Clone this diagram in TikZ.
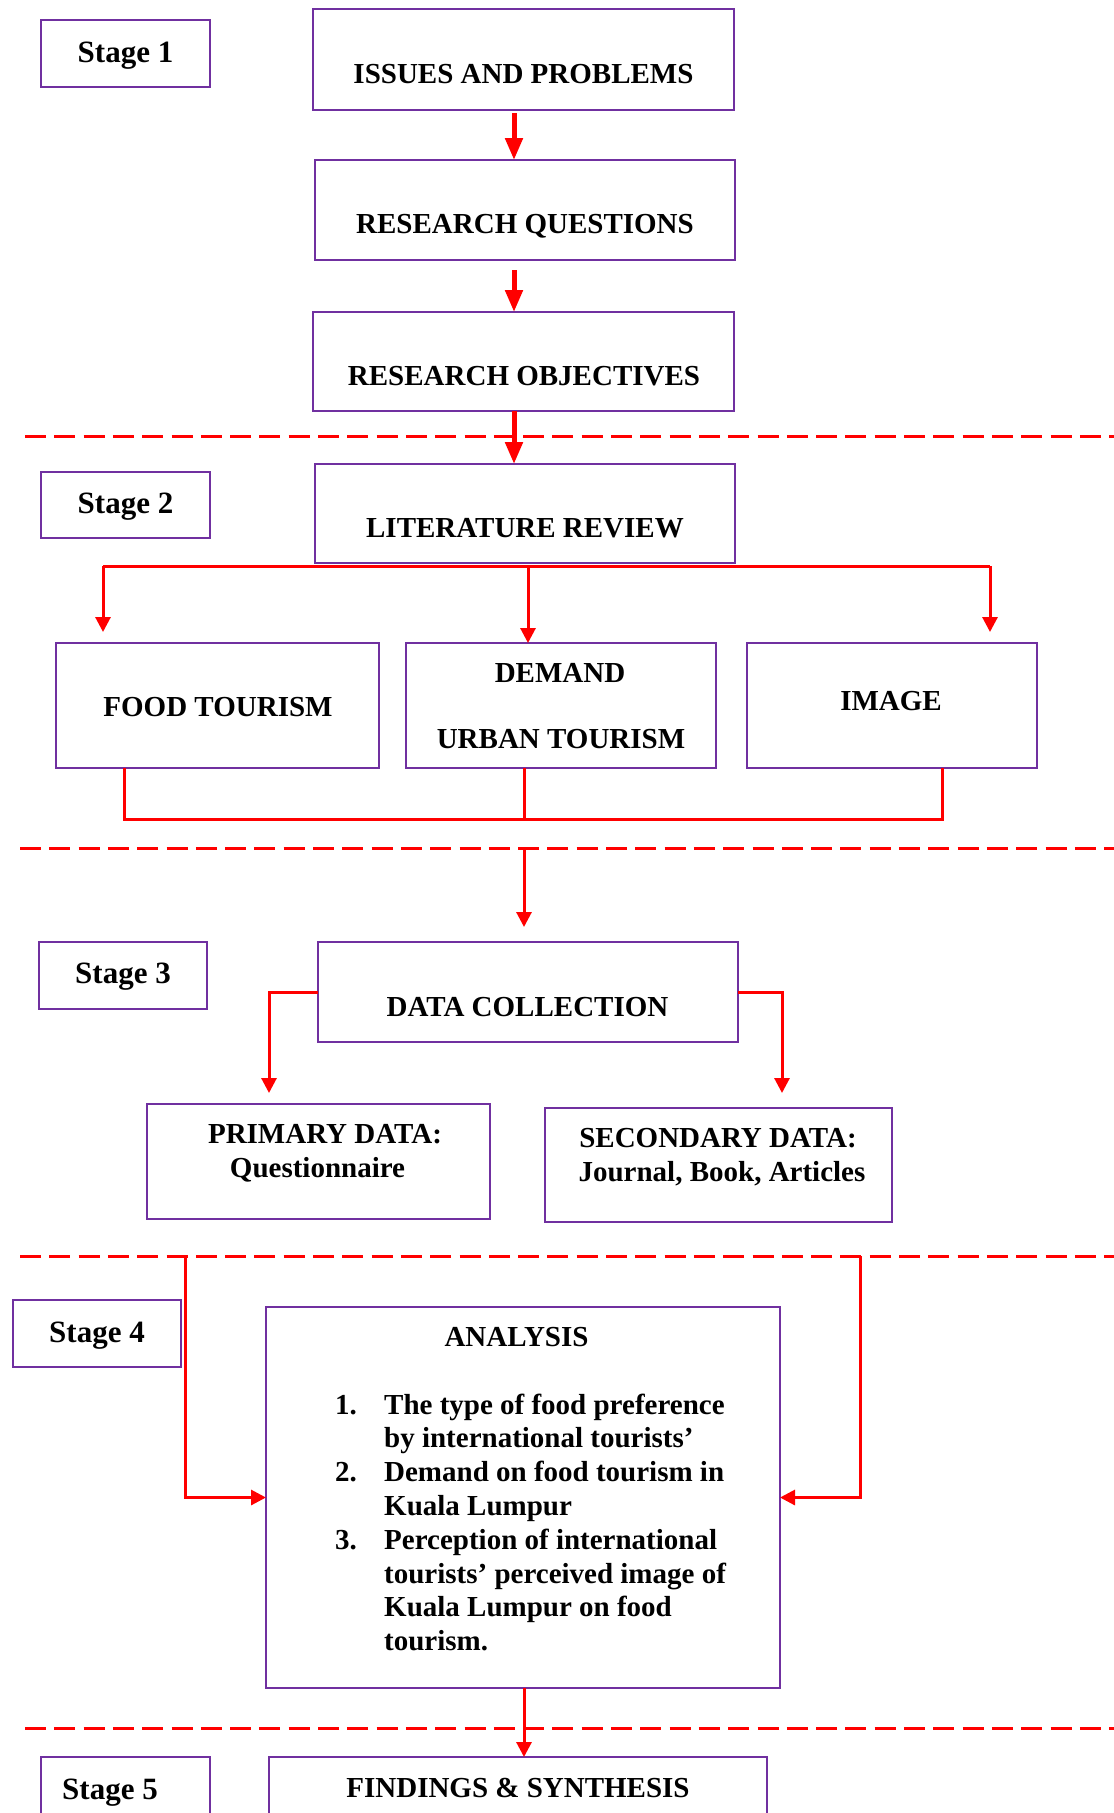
\documentclass[tikz,border=0pt]{standalone}
\usepackage{fontspec}
\setmainfont{Liberation Serif}
\usetikzlibrary{arrows.meta}
\definecolor{boxpurple}{HTML}{7030A0}
\definecolor{lred}{HTML}{FF0000}
\begin{document}
\begin{tikzpicture}[x=1pt,y=-1pt,
  box/.style={draw=boxpurple, line width=2.6pt, inner sep=0pt, outer sep=0pt},
  txt/.style={font=\fontsize{29}{34}\selectfont\bfseries, anchor=base, inner sep=0pt},
  stg/.style={font=\fontsize{31}{36}\selectfont\bfseries, anchor=base, inner sep=0pt},
  conn/.style={draw=lred, line width=3pt},
  arr/.style={draw=lred, line width=3pt, -{Triangle[length=15pt,width=15pt]}},
  bigarr/.style={draw=lred, line width=5pt, -{Triangle[length=22pt,width=17pt]}},
  sepline/.style={draw=lred, line width=3pt, dash pattern=on 21pt off 8.3pt},
]
\useasboundingbox[fill=white] (0,0) rectangle (1114,1813);

% separators
\coordinate (sa1) at (25,436);   \coordinate (sa2) at (1114,436);
\coordinate (sb1) at (20,848);   \coordinate (sb2) at (1114,848);
\coordinate (sc1) at (20,1256);  \coordinate (sc2) at (1114,1256);
\coordinate (sd1) at (25,1728);  \coordinate (sd2) at (1114,1728);
\draw[sepline] (sa1) -- (sa2);
\draw[sepline] (sb1) -- (sb2);
\draw[sepline] (sc1) -- (sc2);
\draw[sepline] (sd1) -- (sd2);

% boxes
\node[box, minimum width=169pt, minimum height=67pt] (s1) at (125.5,53.5) {};
\node[box, minimum width=421pt, minimum height=101pt] (issues) at (523.5,59.5) {};
\node[box, minimum width=420pt, minimum height=100pt] (rq) at (525,210) {};
\node[box, minimum width=421pt, minimum height=99pt] (ro) at (523.5,361.5) {};
\node[box, minimum width=169pt, minimum height=66pt] (s2) at (125.5,505) {};
\node[box, minimum width=420pt, minimum height=99pt] (lr) at (525,513.5) {};
\node[box, minimum width=323pt, minimum height=125pt] (food) at (217.5,705.5) {};
\node[box, minimum width=310pt, minimum height=125pt] (demand) at (561,705.5) {};
\node[box, minimum width=290pt, minimum height=125pt] (image) at (892,705.5) {};
\node[box, minimum width=168pt, minimum height=67pt] (s3) at (123,975.5) {};
\node[box, minimum width=420pt, minimum height=100pt] (dc) at (528,992) {};
\node[box, minimum width=343pt, minimum height=115pt] (prim) at (318.5,1161.5) {};
\node[box, minimum width=347pt, minimum height=114pt] (sec) at (718.5,1165) {};
\node[box, minimum width=168pt, minimum height=67pt] (s4) at (97,1333.5) {};
\node[box, minimum width=514pt, minimum height=381pt] (ana) at (523,1497.5) {};
\node[box, minimum width=169pt, minimum height=73pt] (s5) at (125.5,1793.5) {};
\node[box, minimum width=498pt, minimum height=73pt] (fs) at (518,1793.5) {};

% texts
\node[stg] (t_s1) at (125.5,62) {Stage 1};
\node[txt] (t_issues) at (523.5,83) {ISSUES AND PROBLEMS};
\node[txt] (t_rq) at (525,233) {RESEARCH QUESTIONS};
\node[txt] (t_ro) at (524,385) {RESEARCH OBJECTIVES};
\node[stg] (t_s2) at (125.5,513) {Stage 2};
\node[txt] (t_lr) at (525,537) {LITERATURE REVIEW};
\node[txt] (t_food) at (218,716) {FOOD TOURISM};
\node[txt] (t_dem) at (560,682) {DEMAND};
\node[txt] (t_urb) at (561,748) {URBAN TOURISM};
\node[txt] (t_img) at (891,710) {IMAGE};
\node[stg] (t_s3) at (123,983) {Stage 3};
\node[txt] (t_dc) at (527.5,1016) {DATA COLLECTION};
\node[txt] (t_p1) at (325,1143) {PRIMARY DATA:};
\node[txt] (t_p2) at (317.5,1177) {Questionnaire};
\node[txt] (t_q1) at (718,1147) {SECONDARY DATA:};
\node[txt] (t_q2) at (722,1181) {Journal, Book, Articles};
\node[stg] (t_s4) at (97,1342) {Stage 4};
\node[txt] (t_ana) at (516.5,1346) {ANALYSIS};
\node[anchor=base west, inner sep=0pt, font=\fontsize{29}{33.8}\selectfont\bfseries] (t_list) at (335,1414)
 {\setlength{\tabcolsep}{0pt}\renewcommand{\arraystretch}{1}%
  \begin{tabular}[t]{@{}p{49pt}@{}l@{}}
  1. & The type of food preference\\
     & by international tourists’\\
  2. & Demand on food tourism in\\
     & Kuala Lumpur\\
  3. & Perception of international\\
     & tourists’ perceived image of\\
     & Kuala Lumpur on food\\
     & tourism.
  \end{tabular}};
\node[stg] (t_s5) at (110,1799) {Stage 5};
\node[txt] (t_fs) at (518,1797) {FINDINGS \& SYNTHESIS};

% stage 1 arrows
\coordinate (xa) at (514,0);
\draw[bigarr, shorten <=3pt] (issues.south -| xa) -- (rq.north -| xa);
\draw[bigarr, shorten <=10pt] (rq.south -| xa) -- (ro.north -| xa);
\draw[bigarr] (ro.south -| xa) -- (lr.north -| xa);

% stage 2 branches
\coordinate (bl) at (103,566);
\coordinate (bm) at (528,566);
\coordinate (br) at (990,566);
\draw[conn] (bl) -- (br);
\draw[arr, shorten >=11pt] (bl) -- (bl |- food.north);
\draw[arr] (bm) -- (bm |- demand.north);
\draw[arr, shorten >=11pt] (br) -- (br |- image.north);

% stage 2 bracket
\coordinate (k1) at (124,819);
\coordinate (k2) at (524,819);
\coordinate (k3) at (942,819);
\draw[conn] (food.south -| k1) -- (k1) -- (k3) -- (image.south -| k3);
\draw[conn] (demand.south -| k2) -- (k2);

% stage 2 -> 3
\coordinate (d2) at (524,848);
\draw[arr, shorten >=15pt] (d2) -- (d2 |- dc.north);

% stage 3 branches
\coordinate (cl) at (269,1093);
\coordinate (cr) at (782,1093);
\draw[arr] (dc.west) -| (cl);
\draw[arr] (dc.east) -| (cr);

% stage 3 -> 4
\coordinate (pl) at (185,1256);
\coordinate (pr) at (860,1256);
\draw[arr] (pl) |- (ana.west);
\draw[arr] (pr) |- (ana.east);

% stage 4 -> 5
\coordinate (q) at (524,0);
\draw[arr] (ana.south -| q) -- (fs.north -| q);
\end{tikzpicture}
\end{document}
